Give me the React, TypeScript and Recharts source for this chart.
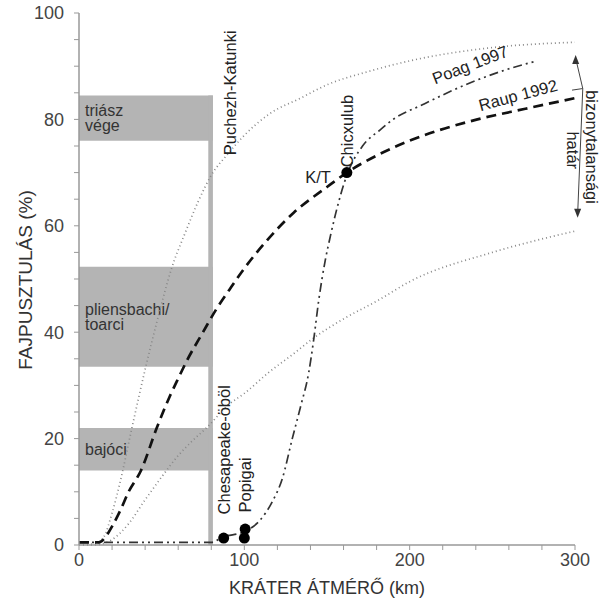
import React from 'react';
import {
  ComposedChart,
  Line,
  Scatter,
  XAxis,
  YAxis,
  ReferenceArea,
  ReferenceLine,
  ReferenceDot,
  Label,
} from 'recharts';

// Raup 1992 curve
const raupX = [0, 12, 16, 20, 25, 30, 37.5, 47, 55, 60, 65, 75, 83, 91, 100, 113, 130, 150, 162, 182, 200, 241, 270, 300];
const raupY = [0.5, 0.5, 1.5, 3.5, 6.5, 10, 14, 22, 28, 31.3, 34.5, 40, 44.3, 48, 52, 57, 62.5, 67.3, 70, 73.5, 76, 80, 82, 84];

// Poag 1997 curve
const poagX = [0, 20, 40, 60, 80, 87, 100, 109, 117, 123, 129, 134, 139, 142, 145, 149, 152, 155, 162, 171.5, 182, 190, 208, 236, 255, 277];
const poagY = [0.5, 0.5, 0.5, 0.5, 0.5, 1.5, 2.5, 4.5, 8.2, 12.5, 20, 26, 32.5, 38.7, 46, 53.6, 58, 62, 69.5, 75, 78, 80, 82.8, 86.8, 89, 91];

// uncertainty bounds
const upperX = [0, 10, 15, 20, 25, 32, 40, 48, 56, 64, 72, 80, 90, 100, 115, 134, 150, 175, 200, 250, 300];
const upperY = [0, 0.3, 1.5, 6, 12, 22, 33, 43, 52, 58.5, 64.5, 69.5, 73.5, 77, 81, 84, 86.5, 89, 91, 93.5, 94.5];
const lowerX = [0, 10, 15, 20, 30, 40, 50, 60, 70, 77, 91, 100, 115, 130, 141, 160, 181, 200, 250, 300];
const lowerY = [0, 0, 0.3, 1, 4, 8.5, 12.8, 16.8, 20, 22, 26.5, 28.5, 32.5, 36, 38.7, 42.5, 46, 49.5, 55, 59];

// impact craters (km, %)
const craterX = [87.5, 100, 100.5, 162];
const craterY = [1.3, 1.3, 3, 70];

// extinction events (gray bands)
const bandNames = [['triász', 'vége'], ['pliensbachi/', 'toarci'], ['bajóci']];
const bandLow = [76, 33.5, 14];
const bandHigh = [84.5, 52.3, 22];

const xTicks = [0, 20, 40, 60, 80, 100, 120, 140, 160, 180, 200, 220, 240, 260, 280, 300];
const yTicks = [0, 5, 10, 15, 20, 25, 30, 35, 40, 45, 50, 55, 60, 65, 70, 75, 80, 85, 90, 95, 100];

const notes = [
  { text: 'Puchezh-Katunki', x: 91.3, y: 85, angle: -90 },
  { text: 'Chesapeake-öböl', x: 87.7, y: 17.9, angle: -90 },
  { text: 'Popigai', x: 100.4, y: 11.3, angle: -90 },
  { text: 'Chicxulub', x: 162.3, y: 77.8, angle: -90 },
  { text: 'K/T', x: 144.6, y: 69.2, angle: 0 },
  { text: 'Poag 1997', x: 236.5, y: 90.3, angle: -21 },
  { text: 'Raup 1992', x: 265.5, y: 84.6, angle: -15 },
  { text: 'bizonytalansági', x: 310, y: 74.8, angle: 90 },
  { text: 'határ', x: 298.8, y: 74.2, angle: 90 },
];

const zip = (xs: number[], ys: number[]) => xs.map((x, i) => ({ x, y: ys[i] }));

const FONT = '"Liberation Sans", Arial, sans-serif';

const NoteText = (text: string, angle: number) => (p: any) => (
  <text
    x={p.cx}
    y={p.cy}
    transform={`rotate(${angle} ${p.cx} ${p.cy})`}
    textAnchor="middle"
    dominantBaseline="central"
    fontSize={16.5}
    fontFamily={FONT}
    fill="#222"
  >
    {text}
  </text>
);

const Arrow = (dir: number) => (p: any) => (
  <path d={`M${p.cx},${p.cy} l-3.5,${-dir * 9} l7,0 z`} fill="#333" />
);

const App: React.FC = () => {
  const tickStyle = { fontSize: 18, fill: '#444', fontFamily: FONT };
  return (
    <div style={{ position: 'absolute', left: 0, top: 0, background: '#fff' }}>
      <ComposedChart width={602} height={599} margin={{ top: 13, right: 27, bottom: 0, left: 0 }}>
        <XAxis
          dataKey="x"
          type="number"
          domain={[0, 300]}
          ticks={xTicks}
          interval={0}
          tickFormatter={(v) => (v % 100 === 0 ? String(v) : '')}
          tick={tickStyle}
          tickSize={5}
          tickMargin={3}
          height={54}
          axisLine={{ stroke: '#999', strokeWidth: 1.5 }}
          tickLine={{ stroke: '#999' }}
        >
          <Label
            value="KRÁTER ÁTMÉRŐ (km)"
            position="insideBottom"
            offset={5}
            style={{ fontSize: 18, fill: '#333', fontFamily: FONT }}
          />
        </XAxis>
        <YAxis
          type="number"
          domain={[0, 100]}
          ticks={yTicks}
          interval={0}
          tickFormatter={(v) => (v % 20 === 0 ? String(v) : '')}
          tick={tickStyle}
          tickSize={5}
          tickMargin={10}
          width={79}
          axisLine={{ stroke: '#999', strokeWidth: 1.5 }}
          tickLine={{ stroke: '#999' }}
        >
          <Label
            content={() => (
              <text
                transform="translate(25 280) rotate(-90)"
                textAnchor="middle"
                dominantBaseline="central"
                fontSize={19}
                fontFamily={FONT}
                fill="#333"
              >
                FAJPUSZTULÁS (%)
              </text>
            )}
          />
        </YAxis>

        {bandNames.map((lines, i) => (
          <ReferenceArea
            key={'band' + i}
            x1={0}
            x2={81}
            y1={bandLow[i]}
            y2={bandHigh[i]}
            fill="#b4b4b4"
            fillOpacity={1}
            stroke="none"
            label={(p: any) => (
              <g>
                {lines.map((l, j) => (
                  <text
                    key={j}
                    x={p.viewBox.x + 6}
                    y={p.viewBox.y + p.viewBox.height / 2 + (j - (lines.length - 1) / 2) * 15.5}
                    fontSize={16}
                    fontFamily={FONT}
                    fill="#333"
                    dominantBaseline="central"
                  >
                    {l}
                  </text>
                ))}
              </g>
            )}
          />
        ))}
        <ReferenceArea x1={78.2} x2={81} y1={0} y2={84.5} fill="#b4b4b4" fillOpacity={1} stroke="none" />

        <Line data={zip(upperX, upperY)} dataKey="y" type="monotone" stroke="#888" strokeWidth={1.7}
          strokeDasharray="1 3" dot={false} isAnimationActive={false} />
        <Line data={zip(lowerX, lowerY)} dataKey="y" type="monotone" stroke="#888" strokeWidth={1.7}
          strokeDasharray="1 3" dot={false} isAnimationActive={false} />
        <Line data={zip(poagX, poagY)} dataKey="y" type="monotone" stroke="#333" strokeWidth={1.7}
          strokeDasharray="9 4 2 4 2 4" dot={false} isAnimationActive={false} />
        <Line data={zip(raupX, raupY)} dataKey="y" type="monotone" stroke="#111" strokeWidth={2.7}
          strokeDasharray="10 6" dot={false} isAnimationActive={false} />
        <Scatter data={zip(craterX, craterY)} dataKey="y" fill="#000" isAnimationActive={false}
          shape={(p: any) => <circle cx={p.cx} cy={p.cy} r={5.5} fill="#000" />} />

        {/* uncertainty arrow */}
        <ReferenceLine segment={[{ x: 298.2, y: 85.5 }, { x: 304.7, y: 85.8 }]} stroke="#444" strokeWidth={1} ifOverflow="visible" />
        <ReferenceLine segment={[{ x: 300.4, y: 91.5 }, { x: 304.7, y: 85.8 }]} stroke="#444" strokeWidth={1} ifOverflow="visible" />
        <ReferenceLine segment={[{ x: 304.7, y: 85.8 }, { x: 301.6, y: 62.2 }]} stroke="#444" strokeWidth={1} ifOverflow="visible" />
        <ReferenceDot x={300.4} y={92.1} r={0} ifOverflow="visible" shape={Arrow(-1)} />
        <ReferenceDot x={301.6} y={61.5} r={0} ifOverflow="visible" shape={Arrow(1)} />

        {notes.map((n) => (
          <ReferenceDot key={n.text} x={n.x} y={n.y} r={0} ifOverflow="visible" shape={NoteText(n.text, n.angle)} />
        ))}
      </ComposedChart>
    </div>
  );
};

export default App;
